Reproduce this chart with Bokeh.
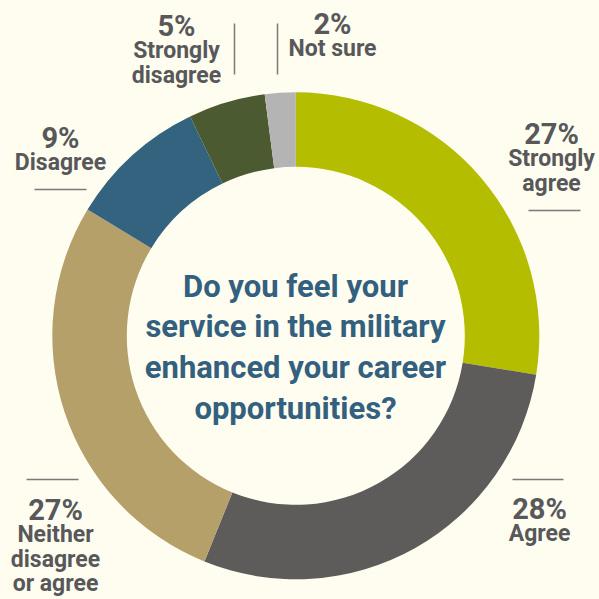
from bokeh.plotting import figure
from bokeh.models import Range1d, ColumnDataSource
from bokeh.core.properties import value
from bokeh.embed import file_html
from bokeh.resources import INLINE
import math

# ---- data ----
categories = ["Strongly agree", "Agree", "Neither disagree or agree", "Disagree", "Strongly disagree", "Not sure"]
percents = [27, 28, 27, 9, 5, 2]
colors = ["#B5BD00", "#5D5C5A", "#B5A06A", "#34637F", "#4C5A31", "#B4B4B4"]
title_lines = ["Do you feel your", "service in the military", "enhanced your career", "opportunities?"]

# label layout: (percent text, label lines, center x, percent baseline y)
label_layout = [
    ("27%", ["Strongly", "agree"], 551, 143),
    ("28%", ["Agree"], 539, 518),
    ("27%", ["Neither", "disagree", "or agree"], 55, 519),
    ("9%", ["Disagree"], 60, 147),
    ("5%", ["Strongly", "disagree"], 176, 35),
    ("2%", ["Not sure"], 332, 33),
]
rule_lines = [  # (x0, y0, x1, y1)
    (528, 210, 580, 210),
    (512, 479, 563, 479),
    (26, 479, 78, 479),
    (34, 189, 86, 189),
    (234, 23, 234, 74),
    (277, 23, 277, 74),
]

BG = "#FEFDF0"
TXT = "#58585A"
FONT = "Roboto"
SHIFT = 9.5  # baseline correction

W = H = 599
p = figure(width=W, height=H, output_backend="svg", toolbar_location=None,
           x_range=Range1d(0, W), y_range=Range1d(-H, 0),
           min_border=0)
p.axis.visible = False
p.grid.visible = False
p.outline_line_color = None
p.background_fill_color = BG
p.border_fill_color = BG

# donut
cx, cy = 295.3, -335.3
total = sum(percents)
starts, ends = [], []
cum = 0.0
for v in percents:
    starts.append(math.pi / 2 - 2 * math.pi * cum / total)
    cum += v
    ends.append(math.pi / 2 - 2 * math.pi * cum / total)
src = ColumnDataSource(dict(start=starts, end=ends, color=colors, cat=categories, pct=percents))
p.annular_wedge(x=cx, y=cy, inner_radius=169, outer_radius=243.5, start_angle="start", end_angle="end",
                direction="clock", fill_color="color", line_color=None, source=src)

# rule lines
p.segment(x0=[r[0] for r in rule_lines], y0=[-r[1] for r in rule_lines],
          x1=[r[2] for r in rule_lines], y1=[-r[3] for r in rule_lines],
          line_color="#7A7A7A", line_width=1.5)

# labels
for pct, lines, x, yb in label_layout:
    p.text(x=[x], y=[-(yb - SHIFT)], text=[pct], text_font=value(FONT), text_font_size="29px",
           text_font_style="bold", text_color=TXT, text_align="center", text_baseline="alphabetic")
    for i, t in enumerate(lines):
        p.text(x=[x], y=[-(yb - SHIFT + 24.5 * (i + 1))], text=[t], text_font=value(FONT),
               text_font_size="23px", text_font_style="bold", text_color=TXT,
               text_align="center", text_baseline="alphabetic")

# title
for i, t in enumerate(title_lines):
    p.text(x=[295], y=[-(296 - SHIFT - 1 + 40.7 * i)], text=[t], text_font=value(FONT), text_font_size="31px",
           text_font_style="bold", text_color="#33607E", text_align="center", text_baseline="alphabetic")

html = file_html(p, INLINE)
open("out.html", "w").write(html)
